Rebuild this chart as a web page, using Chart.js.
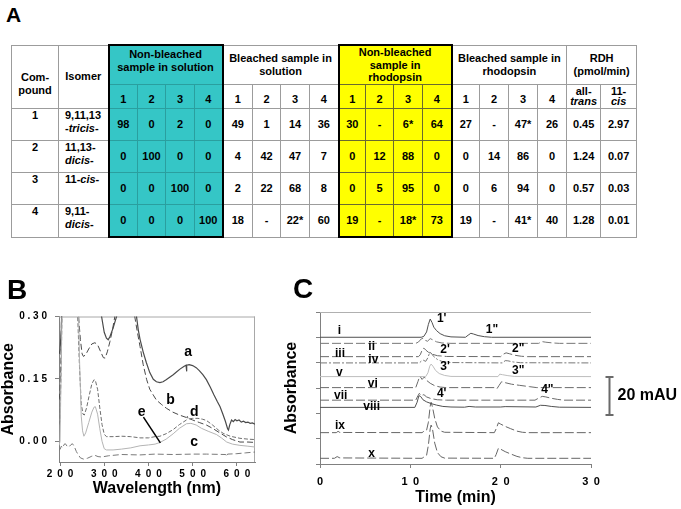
<!DOCTYPE html>
<html><head><meta charset="utf-8">
<script src="https://cdn.jsdelivr.net/npm/chart.js@4.4.1/dist/chart.umd.min.js"></script>
<style>
html,body{margin:0;padding:0;background:#fff;width:681px;height:509px;overflow:hidden;position:relative;font-family:'Liberation Sans',Arial,sans-serif;}
.panel{position:absolute;font-weight:bold;line-height:1;color:#000;z-index:2;}
#tbl{position:absolute;left:11px;top:44px;border-collapse:collapse;table-layout:fixed;width:625px;font-size:11px;font-weight:bold;color:#000;}
#tbl td{border:1px solid #9c9c9c;padding:0;text-align:center;vertical-align:middle;line-height:12.5px;overflow:hidden;white-space:nowrap;}
#tbl td.cy{background:#35c6c6;border-color:#2a9f9f;}
#tbl td.ye{background:#ffff00;border-color:#6a6a30;}
#tbl td.bl{border-left:2px solid #000;}
#tbl td.br{border-right:2px solid #000;}
#tbl td.bt{border-top:2px solid #000;}
#tbl td.bb{border-bottom:2px solid #000;}
#tbl td.top{vertical-align:top;padding-top:2px;}
#tbl td.cmp{vertical-align:top;padding-top:25px;line-height:13px;}
#tbl td.num{padding-top:6px;}
#tbl td.rdh2{line-height:10.5px;}
#tbl td.cno{vertical-align:top;line-height:13.5px;}
#tbl td.iso{vertical-align:top;text-align:left;padding-left:6px;line-height:13.5px;}
canvas{position:absolute;}
</style>
</head><body>
<div class="panel" style="left:6px;top:4px;font-size:21px;">A</div>
<div class="panel" style="left:7px;top:276px;font-size:28px;">B</div>
<div class="panel" style="left:293px;top:275px;font-size:28px;">C</div>
<table id="tbl"></table>
<canvas id="cB" width="280" height="239" style="left:0;top:270px;width:280px;height:239px"></canvas>
<canvas id="cC" width="401" height="239" style="left:280px;top:270px;width:401px;height:239px"></canvas>
<script>
// ---------------- Panel A data ----------------
const compounds = ['1', '2', '3', '4'];
const isomers = ['9,11,13<br>-<i>tricis</i>-', '11,13-<br><i>dicis</i>-', '11-<i>cis</i>-', '9,11-<br><i>dicis</i>-'];
const isomerColumns = ['1', '2', '3', '4'];
const nonBleachedSolution = [[98, 0, 2, 0], [0, 100, 0, 0], [0, 0, 100, 0], [0, 0, 0, 100]];
const bleachedSolution = [[49, 1, 14, 36], [4, 42, 47, 7], [2, 22, 68, 8], [18, '-', '22*', 60]];
const nonBleachedRhodopsin = [[30, '-', '6*', 64], [0, 12, 88, 0], [0, 5, 95, 0], [19, '-', '18*', 73]];
const bleachedRhodopsin = [[27, '-', '47*', 26], [0, 14, 86, 0], [0, 6, 94, 0], [19, '-', '41*', 40]];
const rdhAllTrans = ['0.45', '1.24', '0.57', '1.28'];
const rdh11cis = ['2.97', '0.07', '0.03', '0.01'];

// ---------------- Panel B data (wavelength nm, absorbance) ----------------
const specA = [[198,0.21],[200,0.22],[203,0.27],[206,0.42],[290,0.42],[294,0.30],[300,0.262],[305,0.248],[309,0.244],[313,0.252],[320,0.272],[328,0.30],[334,0.42],[366,0.42],[373,0.30],[377,0.268],[381,0.245],[388,0.215],[395,0.19],[403,0.165],[411,0.149],[418,0.143],[426,0.141],[433,0.143],[440,0.148],[448,0.154],[456,0.160],[464,0.167],[472,0.174],[480,0.180],[485,0.183],[486,0.168],[487,0.183],[492,0.184],[500,0.182],[508,0.177],[515,0.170],[523,0.160],[531,0.148],[540,0.13],[548,0.112],[556,0.095],[562,0.083],[568,0.066],[574,0.048],[579,0.030],[581,0.027],[584,0.040],[588,0.051],[592,0.047],[596,0.052],[600,0.049],[605,0.051],[610,0.046],[615,0.048],[620,0.045],[625,0.046],[630,0.043],[635,0.044],[641,0.041]];
const specB = [[198,0.10],[200,0.12],[202,0.2],[205,0.42],[238,0.42],[242,0.30],[246,0.245],[250,0.21],[253,0.204],[258,0.208],[265,0.222],[272,0.234],[279,0.237],[285,0.232],[292,0.215],[298,0.201],[302,0.2],[307,0.215],[313,0.24],[319,0.27],[324,0.30],[330,0.42],[362,0.42],[369,0.30],[375,0.262],[381,0.228],[388,0.185],[396,0.148],[403,0.125],[411,0.111],[418,0.099],[430,0.088],[441,0.079],[455,0.07],[470,0.063],[486,0.057],[500,0.051],[515,0.045],[531,0.039],[545,0.031],[560,0.021],[577,0.010],[590,0.004],[607,-0.002],[625,-0.002],[641,-0.003]];
const specC = [[198,-0.022],[200,-0.02],[203,-0.012],[206,-0.016],[209,-0.008],[212,-0.006],[216,-0.012],[220,-0.014],[224,-0.009],[228,-0.006],[232,-0.012],[237,-0.025],[241,-0.032],[246,-0.04],[253,-0.043],[262,-0.041],[272,-0.036],[279,-0.034],[286,-0.037],[294,-0.038],[310,-0.035],[339,-0.032],[380,-0.033],[415,-0.031],[456,-0.032],[500,-0.031],[531,-0.031],[575,-0.032],[577,-0.037],[579,-0.031],[600,-0.03],[620,-0.028],[641,-0.026]];
const specD = [[198,0.04],[200,0.05],[203,0.2],[206,0.42],[236,0.42],[240,0.30],[244,0.18],[248,0.09],[252,0.065],[255,0.063],[260,0.08],[266,0.11],[272,0.138],[277,0.148],[280,0.146],[285,0.125],[290,0.08],[295,0.04],[300,0.017],[305,0.011],[320,0.011],[340,0.012],[360,0.011],[381,0.008],[400,0.008],[415,0.011],[426,0.012],[440,0.018],[456,0.028],[470,0.040],[486,0.051],[488,0.06],[490,0.053],[500,0.055],[512,0.055],[522,0.053],[531,0.050],[545,0.039],[558,0.027],[569,0.019],[585,0.012],[607,0.007],[625,0.005],[641,0.004]];
const specE = [[198,-0.01],[200,0.0],[203,0.2],[206,0.42],[240,0.42],[244,0.2],[248,0.06],[251,0.025],[254,0.012],[258,0.02],[265,0.045],[272,0.07],[277,0.082],[280,0.083],[285,0.065],[290,0.03],[295,0.0],[300,-0.018],[305,-0.021],[320,-0.021],[339,-0.019],[360,-0.016],[381,-0.011],[400,-0.009],[415,-0.007],[426,-0.003],[440,0.005],[456,0.018],[470,0.031],[486,0.042],[496,0.043],[508,0.039],[520,0.031],[535,0.024],[554,0.016],[565,0.008],[577,-0.002],[590,-0.007],[607,-0.01],[625,-0.012],[641,-0.014]];
const xTicksB = [200, 300, 400, 500, 600];
const yTicksB = [0, 0.15, 0.30];
const labelsB = [['a', 490, 0.214], ['b', 450, 0.099], ['d', 503.5, 0.071], ['e', 384.6, 0.071], ['c', 503.5, -0.002]];
const pointerE = [[388.7, 0.058], [427, -0.004]];

// ---------------- Panel C data (time min, absorbance mAU) ----------------
const chromI = [[0,66.7],[11.2,66.7],[11.5,67.2],[11.8,69.5],[12.0,73.5],[12.2,76.3],[12.4,74.5],[12.6,72.0],[12.9,70.2],[13.3,68.6],[13.8,67.5],[14.5,66.9],[16.1,66.7],[16.4,67.8],[16.7,68.8],[17.0,68.4],[17.5,67.6],[18.2,67.0],[19,66.7],[30,66.7]];
const chromII = [[0,63.5],[10.6,63.5],[10.9,64.2],[11.2,65.8],[11.45,66.3],[11.7,65.0],[11.9,64.6],[12.2,66.0],[12.5,65.3],[12.9,64.3],[13.5,63.7],[14.5,63.5],[24.2,63.5],[24.6,64.4],[25.0,64.1],[25.8,63.7],[26.5,63.5],[30,63.5]];
const chromIII = [[0,56.5],[10.9,56.5],[11.1,57.5],[11.35,60.5],[11.5,61.0],[11.7,60.0],[12.0,58.8],[12.4,57.8],[13.0,57.0],[14,56.6],[20.0,56.5],[20.3,57.8],[20.6,58.5],[21.0,58.0],[21.6,57.2],[22.3,56.7],[23,56.5],[30,56.5]];
const chromIV = [[0,53.2],[11.0,53.2],[11.25,54.3],[11.45,54.6],[11.7,54.0],[11.95,56.0],[12.15,58.8],[12.3,58.4],[12.6,56.5],[13.0,55.0],[13.5,54.0],[14.3,53.4],[20.2,53.2],[20.5,54.4],[20.8,54.3],[21.4,53.7],[22.2,53.3],[30,53.2]];
const chromV = [[0,46],[11.7,46],[11.95,48],[12.15,51.5],[12.3,52.6],[12.5,51.5],[12.8,49.2],[13.2,47.6],[13.8,46.6],[14.5,46.1],[19.7,46.0],[19.9,47.3],[20.2,47.0],[20.8,46.5],[21.5,46.1],[30,46]];
const chromVI = [[0,40.2],[10.6,40.2],[10.85,43.5],[11.05,46.3],[11.3,44.5],[11.55,45.8],[11.8,44.0],[12.2,42.5],[12.7,41.2],[13.3,40.5],[14,40.2],[19.4,40.2],[19.6,39.7],[19.8,41.2],[20.1,43.3],[20.5,42.8],[21.2,42.0],[22.1,41.4],[23.2,40.7],[24,40.2],[30,40.2]];
const chromVII = [[0,33.6],[10.6,33.6],[10.85,36.0],[11.0,37.2],[11.2,36.0],[11.5,36.5],[11.8,35.3],[12.3,34.4],[13,33.8],[14,33.6],[23.8,33.6],[24.1,34.4],[24.6,35.6],[25.0,35.3],[25.6,34.6],[26.3,34.0],[27,33.6],[30,33.6]];
const chromVIII = [[0,29.8],[10.5,29.8],[10.75,32.5],[10.95,36.0],[11.15,35.5],[11.4,33.8],[11.8,32.7],[12.3,31.8],[12.9,31.0],[13.6,30.3],[14.5,30.0],[16,29.9],[16.5,30.3],[17.2,30.0],[20,30.0],[20.5,30.2],[23.9,30.0],[24.4,30.9],[24.9,30.8],[25.6,30.3],[26.5,29.9],[30,29.8]];
const chromIX = [[0,16.5],[1.8,16.5],[2.0,17.2],[2.2,16.6],[11.3,16.5],[11.6,17.6],[11.8,17.8],[12.0,22],[12.2,30.5],[12.3,32.5],[12.45,30],[12.7,24],[13.0,19.5],[13.4,17.3],[13.8,16.7],[19.3,16.5],[19.5,18.5],[19.75,21.7],[20.0,21.0],[20.5,19.8],[21.1,18.6],[21.8,17.3],[22.4,16.7],[23,16.5],[30,16.5]];
const chromX = [[0,3],[1.6,3],[1.9,3.9],[2.2,3.2],[11.3,3.0],[11.6,4.0],[11.8,4.6],[12.0,10],[12.2,18.5],[12.3,20.5],[12.45,18.5],[12.7,11],[13.0,6],[13.4,3.8],[13.8,3.1],[19.3,3.0],[19.5,5],[19.75,8.3],[20.0,7.8],[20.5,6.5],[21.1,5.3],[21.8,4.0],[22.4,3.3],[23,3.0],[30,3.0]];
const xTicksC = [0, 10, 20, 30];
const yTicksC = [0, 13.33, 26.67, 40, 53.33, 66.67, 80];
const labelsC = [['1\'',13.47,76.7],['1"',19.04,70.5],['i',2.14,70.0],['ii',5.72,61.7],['2\'',13.84,60.0],['2"',21.95,60.9],['iii',2.21,57.9],['iv',5.9,54.7],['3\'',13.84,51.2],['3"',21.95,49.1],['v',2.14,48.3],['vi',5.84,42.1],['4"',25.17,39.3],['vii',2.29,35.8],['4\'',13.47,37.2],['viii',5.72,30.1],['ix',2.21,20.1],['x',5.72,5.3]];
const scaleBarC = {base: 25.8, size: 20, label: '20 mAU'};

// ---------------- Build table A ----------------
(function buildTable(){
  const t = document.getElementById('tbl');
  const widths = [47,50, 29,28,29,28, 30,28,29,29, 27,28,29,29, 28,29,29,29, 34,36];
  let h = '<colgroup>' + widths.map(w => '<col style="width:' + w + 'px">').join('') + '</colgroup>';
  h += '<tr style="height:39px"><td rowspan="2" class="cmp">Com-<br>pound</td><td rowspan="2">Isomer</td>' +
       '<td colspan="4" class="cy bl br bt top">Non-bleached<br>sample in solution</td>' +
       '<td colspan="4">Bleached sample in<br>solution</td>' +
       '<td colspan="4" class="ye bl br bt">Non-bleached<br>sample in<br>rhodopsin</td>' +
       '<td colspan="4">Bleached sample in<br>rhodopsin</td>' +
       '<td colspan="2">RDH<br>(pmol/min)</td></tr>';
  const sub = (cls) => isomerColumns.map((c, i) => '<td class="num ' + cls + (i === 0 && cls ? ' bl' : '') + (i === 3 && cls ? ' br' : '') + '">' + c + '</td>').join('');
  h += '<tr style="height:24px">' + sub('cy') + sub('') + sub('ye') + sub('') +
       '<td class="rdh2">all-<br><i>trans</i></td><td class="rdh2">11-<br><i>cis</i></td></tr>';
  const blk = (arr, r, cls, last) => arr[r].map((v, i) => '<td class="' + cls + (cls && i === 0 ? ' bl' : '') + (cls && i === 3 ? ' br' : '') + (cls && last ? ' bb' : '') + '">' + v + '</td>').join('');
  const rh = [32, 32, 32, 33];
  compounds.forEach((c, r) => {
    const last = r === compounds.length - 1;
    h += '<tr style="height:' + rh[r] + 'px"><td class="cno">' + c + '</td><td class="iso">' + isomers[r] + '</td>' +
         blk(nonBleachedSolution, r, 'cy', last) + blk(bleachedSolution, r, '', last) +
         blk(nonBleachedRhodopsin, r, 'ye', last) + blk(bleachedRhodopsin, r, '', last) +
         '<td>' + rdhAllTrans[r] + '</td><td>' + rdh11cis[r] + '</td></tr>';
  });
  t.innerHTML = h;
})();

// ---------------- Charts ----------------
const FONT = "'Liberation Sans', Arial, sans-serif";
Chart.defaults.font.family = FONT;
Chart.defaults.color = '#000';
const pts = a => a.map(([x, y]) => ({x, y}));
const line = (data, color, dash, width) => ({data: pts(data), borderColor: color, borderWidth: width || 1, borderDash: dash || [], pointRadius: 0, fill: false, tension: 0});

function framePlugin(sides, color) {
  return {id: 'frame', beforeDatasetsDraw(chart) {
    const {ctx, chartArea: a} = chart;
    ctx.save(); ctx.strokeStyle = color; ctx.lineWidth = 1; ctx.beginPath();
    if (sides.includes('top')) { ctx.moveTo(a.left, a.top + 0.5); ctx.lineTo(a.right, a.top + 0.5); }
    if (sides.includes('right')) { ctx.moveTo(a.right - 0.5, a.top); ctx.lineTo(a.right - 0.5, a.bottom); }
    ctx.stroke(); ctx.restore();
  }};
}
function labelPlugin(items, font, extra) {
  return {id: 'labels', afterDatasetsDraw(chart) {
    const {ctx, scales: {x, y}} = chart;
    ctx.save();
    ctx.fillStyle = '#000'; ctx.font = font; ctx.textAlign = 'center'; ctx.textBaseline = 'middle';
    items.forEach(([t, vx, vy]) => ctx.fillText(t, x.getPixelForValue(vx), y.getPixelForValue(vy)));
    if (extra) extra(chart, ctx);
    ctx.restore();
  }};
}

// Panel B
new Chart(document.getElementById('cB'), {
  type: 'line',
  data: {datasets: [
    line(specC, '#7a7a7a', [6, 3]),
    line(specE, '#b4b4b4', []),
    line(specD, '#6e6e6e', [4, 2]),
    line(specB, '#4a4a4a', [6, 3]),
    line(specA, '#4a4a4a', [], 1.2)
  ]},
  options: {
    responsive: false, animation: false, devicePixelRatio: 1,
    layout: {padding: {left: 0, right: 25, top: 46.5, bottom: 0}, autoPadding: false},
    plugins: {legend: {display: false}, tooltip: {enabled: false}},
    scales: {
      x: {type: 'linear', min: 197.7, max: 641,
        afterBuildTicks: s => { s.ticks = xTicksB.map(v => ({value: v})); },
        afterFit: s => { s.height = 47; },
        grid: {drawOnChartArea: false, tickLength: 4, color: '#808080'},
        border: {color: '#808080'},
        ticks: {padding: 2, font: {size: 10, weight: 'bold'}, color: '#000', maxRotation: 0, callback: v => String(v).split('').join('\u2002')},
        title: {display: true, text: 'Wavelength (nm)', color: '#000', font: {size: 16, weight: 'bold', lineHeight: 1}, padding: {top: 0, bottom: 12.5}}
      },
      y: {type: 'linear', min: -0.05, max: 0.30,
        afterBuildTicks: s => { s.ticks = yTicksB.map(v => ({value: v})); },
        afterFit: s => { s.width = 59; },
        grid: {drawOnChartArea: false, tickLength: 4, color: '#808080'},
        border: {color: '#808080'},
        ticks: {padding: 8, font: {size: 10, weight: 'bold'}, color: '#000', callback: v => Number(v).toFixed(2).split('').join(' ')},
        title: {display: true, text: 'Absorbance', color: '#000', font: {size: 16, weight: 'bold', lineHeight: 1}, padding: {top: 1, bottom: 0}}
      }
    }
  },
  plugins: [framePlugin(['top', 'right'], '#a8a8a8'), labelPlugin(labelsB, 'bold 14px ' + FONT, (chart, ctx) => {
    const {x, y} = chart.scales;
    ctx.strokeStyle = '#000'; ctx.lineWidth = 1.5; ctx.beginPath();
    ctx.moveTo(x.getPixelForValue(pointerE[0][0]), y.getPixelForValue(pointerE[0][1]));
    ctx.lineTo(x.getPixelForValue(pointerE[1][0]), y.getPixelForValue(pointerE[1][1]));
    ctx.stroke();
  })]
});

// Panel C
const dashC = [9, 3];
new Chart(document.getElementById('cC'), {
  type: 'line',
  data: {datasets: [
    line(chromI, '#505050', []),
    line(chromII, '#777777', dashC),
    line(chromIII, '#6a6a6a', dashC),
    line(chromIV, '#777777', [7, 2, 2, 2]),
    line(chromV, '#bdbdbd', []),
    line(chromVI, '#6a6a6a', dashC),
    line(chromVII, '#6a6a6a', dashC),
    line(chromVIII, '#505050', []),
    line(chromIX, '#666666', dashC),
    line(chromX, '#666666', dashC)
  ]},
  options: {
    responsive: false, animation: false, devicePixelRatio: 1,
    layout: {padding: {left: 0, right: 90, top: 42, bottom: 0}, autoPadding: false},
    plugins: {legend: {display: false}, tooltip: {enabled: false}},
    scales: {
      x: {type: 'linear', min: 0, max: 30,
        afterBuildTicks: s => { s.ticks = xTicksC.map(v => ({value: v})); },
        afterFit: s => { s.height = 45; },
        grid: {drawOnChartArea: false, tickLength: 4, color: '#808080'},
        border: {color: '#808080'},
        ticks: {padding: 7, font: {size: 11, weight: 'bold'}, color: '#000', maxRotation: 0, callback: v => String(v).split('').join('\u2002')},
        title: {display: true, text: 'Time (min)', color: '#000', font: {size: 16, weight: 'bold', lineHeight: 1}, padding: {top: 0, bottom: 3}}
      },
      y: {type: 'linear', min: 0, max: 80,
        afterBuildTicks: s => { s.ticks = yTicksC.map(v => ({value: v})); },
        afterFit: s => { s.width = 40; },
        grid: {drawOnChartArea: false, tickLength: 4, color: '#808080'},
        border: {color: '#808080'},
        ticks: {display: false},
        title: {display: true, text: 'Absorbance', color: '#000', font: {size: 16, weight: 'bold', lineHeight: 1}, padding: {top: 4, bottom: 0}}
      }
    }
  },
  plugins: [framePlugin(['top'], '#b0b0b0'), labelPlugin(labelsC, 'bold 12px ' + FONT, (chart, ctx) => {
    const {y} = chart.scales;
    const a = chart.chartArea;
    const bx = a.right + 18.5;
    const y0 = y.getPixelForValue(scaleBarC.base), y1 = y.getPixelForValue(scaleBarC.base + scaleBarC.size);
    ctx.strokeStyle = '#6a6a6a'; ctx.lineWidth = 2; ctx.beginPath();
    ctx.moveTo(bx, y0); ctx.lineTo(bx, y1);
    ctx.moveTo(bx - 4, y0); ctx.lineTo(bx + 4, y0);
    ctx.moveTo(bx - 4, y1); ctx.lineTo(bx + 4, y1);
    ctx.stroke();
    ctx.font = 'bold 16px ' + FONT; ctx.textAlign = 'left'; ctx.fillStyle = '#000';
    ctx.fillText(scaleBarC.label, bx + 8, (y0 + y1) / 2);
  })]
});
</script>
</body></html>
